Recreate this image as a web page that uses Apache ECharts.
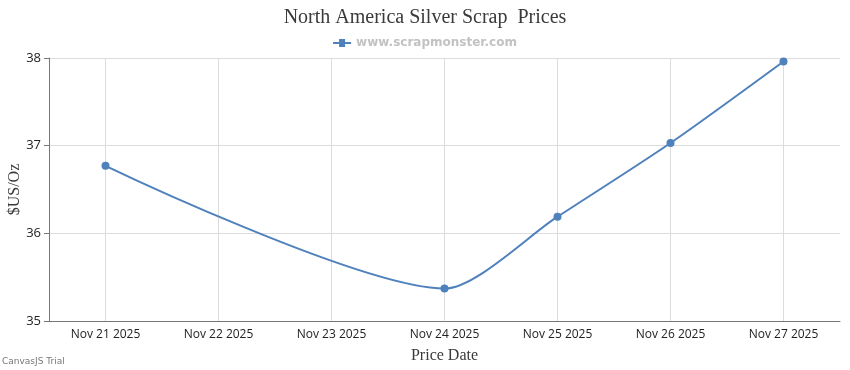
<!DOCTYPE html>
<html><head><meta charset="utf-8">
<script src="https://cdn.jsdelivr.net/npm/echarts@6/dist/echarts.min.js"></script>
<style>html,body{margin:0;padding:0;background:#fff}#c{width:850px;height:370px}</style>
</head><body><div id="c"></div>
<script>
const categories = ['Nov 21 2025','Nov 22 2025','Nov 23 2025','Nov 24 2025','Nov 25 2025','Nov 26 2025','Nov 27 2025'];
const prices = [36.77, null, null, 35.37, 36.19, 37.03, 37.96];
const yTicks = [35, 36, 37, 38];

const chart = echarts.init(document.getElementById('c'));
chart.setOption({
  animation: false,
  title: {
    text: 'North America Silver Scrap  Prices',
    left: 'center', top: 3,
    textStyle: {fontFamily: '"Liberation Serif","Times New Roman",serif', fontWeight: 'normal', fontSize: 20, color: '#3a3a3a'}
  },
  legend: {
    top: 32, left: 'center',
    itemWidth: 18, itemHeight: 8, itemGap: 5,
    data: [{name: 'www.scrapmonster.com', icon: 'path://M0,3 L6,3 L6,0 L12,0 L12,3 L18,3 L18,5 L12,5 L12,8 L6,8 L6,5 L0,5 Z'}],
    textStyle: {fontFamily: '"DejaVu Sans",Verdana,sans-serif', fontWeight: 'bold', fontSize: 12, color: '#c2c2c2'}
  },
  grid: {left: 49, right: 10, top: 58, bottom: 49, containLabel: false, outerBoundsMode: 'none'},
  xAxis: {
    type: 'category', data: categories, boundaryGap: true,
    name: 'Price Date', nameLocation: 'middle', nameGap: 27,
    nameTextStyle: {fontFamily: '"Liberation Serif","Times New Roman",serif', fontSize: 16, color: '#3a3a3a'},
    axisLine: {lineStyle: {color: '#777', width: 1}},
    axisTick: {alignWithLabel: true, length: 5, lineStyle: {color: '#777'}},
    splitLine: {show: true, alignWithLabel: true, lineStyle: {color: '#dcdcdc'}},
    axisLabel: {fontFamily: '"Open Sans","Noto Sans",sans-serif', fontSize: 12, color: '#222', margin: 8}
  },
  yAxis: {
    type: 'value', min: yTicks[0], max: yTicks[yTicks.length-1], interval: 1,
    name: '$US/Oz', nameLocation: 'middle', nameGap: 26, nameMoveOverlap: false,
    nameTextStyle: {fontFamily: '"Liberation Serif","Times New Roman",serif', fontSize: 16, color: '#3a3a3a'},
    axisLine: {show: true, lineStyle: {color: '#777', width: 1}},
    axisTick: {show: true, length: 5, lineStyle: {color: '#777'}},
    splitLine: {lineStyle: {color: '#dcdcdc'}},
    axisLabel: {fontFamily: '"Open Sans","Noto Sans",sans-serif', fontSize: 13, color: '#222', margin: 8}
  },
  series: [{
    name: 'www.scrapmonster.com', type: 'line', data: prices,
    connectNulls: true, smooth: 0.25,
    symbol: 'circle', symbolSize: 8,
    itemStyle: {color: '#4F81BC'},
    lineStyle: {color: '#4F81BC', width: 2}
  }],
  graphic: [{
    type: 'text', left: 2, top: 357,
    style: {text: 'CanvasJS Trial', fontFamily: '"DejaVu Sans",sans-serif', fontSize: 9, fill: '#777'}
  }]
});
</script></body></html>
